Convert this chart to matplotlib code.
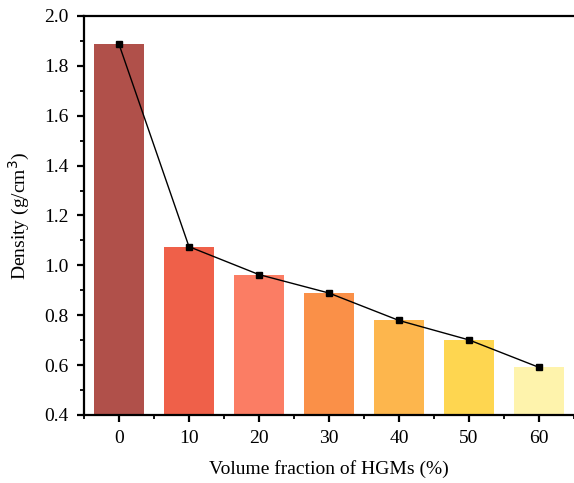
import matplotlib
matplotlib.use("Agg")
import matplotlib.pyplot as plt
from matplotlib.ticker import MultipleLocator

plt.rcParams['font.family'] = ['Liberation Serif', 'DejaVu Serif']

fractions = [0, 10, 20, 30, 40, 50, 60]
density = [1.887, 1.075, 0.963, 0.889, 0.779, 0.701, 0.591]
colors = ['#B0504A', '#EF6049', '#FB7D64', '#FA9048', '#FDB64D', '#FED650', '#FEF3AC']

fig = plt.figure(figsize=(5.74, 4.83), dpi=100)
ax = fig.add_axes([0.1463, 0.1408, 0.8537, 0.8261])

ax.bar(fractions, density, width=7.1, color=colors, zorder=1)
ax.plot(fractions, density, color='black', lw=1.0, marker='s', markersize=4.5, zorder=3)

ax.set_xlim(-5, 65)
ax.set_ylim(0.4, 2.0)
ax.xaxis.set_major_locator(MultipleLocator(10))
ax.xaxis.set_minor_locator(MultipleLocator(5))
ax.yaxis.set_major_locator(MultipleLocator(0.2))
ax.yaxis.set_minor_locator(MultipleLocator(0.1))

ax.spines['right'].set_visible(False)
for s in ['left', 'bottom', 'top']:
    ax.spines[s].set_linewidth(1.6)

ax.tick_params(which='major', direction='out', length=5, width=1.6, labelsize=14,
               pad=6, top=False, right=False)
ax.tick_params(which='minor', direction='out', length=3, width=1.3, top=False, right=False)

ax.set_xlabel('Volume fraction of HGMs (%)', fontsize=14, labelpad=9)
ax.set_ylabel('Density (g/cm$^3$)', fontsize=14, labelpad=9)

fig.savefig('out.png', dpi=100)
